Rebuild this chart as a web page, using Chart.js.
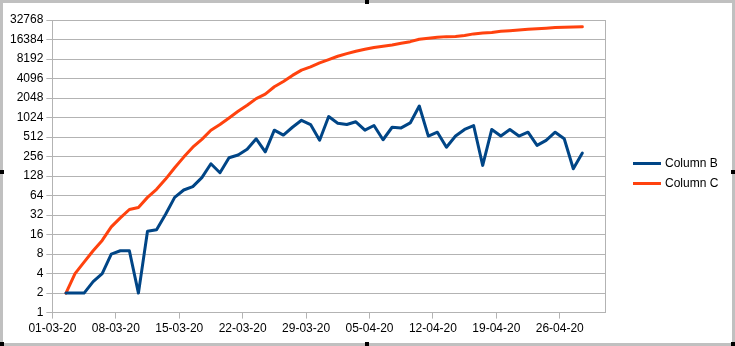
<!DOCTYPE html>
<html>
<head>
<meta charset="utf-8">
<script src="https://cdn.jsdelivr.net/npm/chart.js@4/dist/chart.umd.min.js"></script>
<style>
    html, body { margin: 0; padding: 0; background: #fff; }
    #wrap { position: relative; width: 735px; height: 346px; overflow: hidden; }
    #chart { position: absolute; left: 0; top: 0; }
    #frame {
        position: absolute; left: 0; top: 0; width: 735px; height: 346px;
        box-sizing: border-box; border: 3px solid #c0c0c0; pointer-events: none;
    }
    .handle { position: absolute; width: 4px; height: 4px; background: #000; }
    #legend {
        position: absolute; left: 633px; top: 153px;
        font: 12px "Liberation Sans", Arial, sans-serif; color: #000;
    }
    .legend-item { display: flex; align-items: center; height: 20px; }
    .legend-line { width: 28px; height: 3px; margin-right: 4px; }
</style>
</head>
<body>
<div id="wrap">
    <canvas id="chart" width="735" height="346"></canvas>
    <div id="legend"></div>
    <div id="frame"></div>
    <div class="handle" style="left:365px; top:0"></div>
    <div class="handle" style="left:0; top:170px"></div>
    <div class="handle" style="left:731px; top:170px"></div>
    <div class="handle" style="left:0; top:342px"></div>
    <div class="handle" style="left:365px; top:342px"></div>
    <div class="handle" style="left:731px; top:342px"></div>
</div>
<script>
// --- DATA ---
const days = [
    '01-03-20', '02-03-20', '03-03-20', '04-03-20', '05-03-20', '06-03-20', '07-03-20',
    '08-03-20', '09-03-20', '10-03-20', '11-03-20', '12-03-20', '13-03-20', '14-03-20',
    '15-03-20', '16-03-20', '17-03-20', '18-03-20', '19-03-20', '20-03-20', '21-03-20',
    '22-03-20', '23-03-20', '24-03-20', '25-03-20', '26-03-20', '27-03-20', '28-03-20',
    '29-03-20', '30-03-20', '31-03-20', '01-04-20', '02-04-20', '03-04-20', '04-04-20',
    '05-04-20', '06-04-20', '07-04-20', '08-04-20', '09-04-20', '10-04-20', '11-04-20',
    '12-04-20', '13-04-20', '14-04-20', '15-04-20', '16-04-20', '17-04-20', '18-04-20',
    '19-04-20', '20-04-20', '21-04-20', '22-04-20', '23-04-20', '24-04-20', '25-04-20',
    '26-04-20', '27-04-20', '28-04-20', '29-04-20', '30-04-20'
];
const firstDataDay = 1; // values start on 02-03-20

const colB = [
    2, 2, 2, 3, 4, 8, 9, 9, 2, 18,
    19, 33, 60, 78, 88, 121, 198, 144, 245, 270,
    331, 481, 303, 653, 549, 725, 929, 798, 458, 1060,
    838, 798, 880, 653, 771, 465, 725, 709, 845, 1540,
    530, 608, 357, 530, 671, 771, 187, 671, 530, 671,
    530, 608, 380, 455, 608, 481, 166, 290
];
const colC = [
    2, 4, 6, 9, 13, 21, 29, 39, 42, 60,
    80, 115, 172, 251, 357, 471, 653, 798, 1010, 1278,
    1584, 2006, 2353, 3060, 3690, 4575, 5520, 6210, 7140, 8030,
    9030, 9930, 10800, 11580, 12330, 12880, 13520, 14300, 15180, 16500,
    17100, 17700, 18150, 18300, 18950, 20000, 20700, 21100, 21900, 22400,
    22900, 23500, 24000, 24500, 25100, 25400, 25500, 25700
];
const yTicks = [1, 2, 4, 8, 16, 32, 64, 128, 256, 512, 1024, 2048, 4096, 8192, 16384, 32768];
const labelEvery = 7;

const GRID = '#b3b3b3';
const FONT = { family: '"Liberation Sans", Arial, sans-serif', size: 12 };

const toPoints = (values) => values.map((v, i) => ({ x: days[i + firstDataDay], y: v }));

// right-hand border of the plot area
const plotFrame = {
    id: 'plotFrame',
    afterDraw(chart) {
        const { ctx, chartArea: a } = chart;
        ctx.save();
        ctx.strokeStyle = GRID;
        ctx.lineWidth = 1;
        ctx.beginPath();
        ctx.moveTo(Math.round(a.right) + 0.5, a.top);
        ctx.lineTo(Math.round(a.right) + 0.5, a.bottom);
        ctx.stroke();
        ctx.restore();
    }
};

const chart = new Chart(document.getElementById('chart'), {
    type: 'line',
    data: {
        labels: days,
        datasets: [
            { label: 'Column B', data: toPoints(colB), borderColor: '#004586' },
            { label: 'Column C', data: toPoints(colC), borderColor: '#ff420e' }
        ]
    },
    options: {
        responsive: false,
        animation: false,
        events: [],
        layout: { padding: { left: 7, right: 130, top: 20, bottom: 7 } },
        elements: {
            line: { borderWidth: 3, tension: 0, borderJoinStyle: 'round', borderCapStyle: 'round' },
            point: { radius: 0 }
        },
        plugins: { legend: { display: false }, tooltip: { enabled: false } },
        scales: {
            x: {
                type: 'category',
                offset: true,
                grid: {
                    offset: true,
                    drawOnChartArea: false,
                    tickLength: 6,
                    color: (c) => (c.index % labelEvery === 0 ? GRID : 'rgba(0,0,0,0)')
                },
                border: { color: GRID },
                ticks: {
                    autoSkip: false,
                    maxRotation: 0,
                    minRotation: 0,
                    padding: 3,
                    labelOffset: -4.5,
                    color: '#000',
                    font: FONT,
                    callback: (val, idx) => (idx % labelEvery === 0 ? days[idx] : '')
                }
            },
            y: {
                type: 'logarithmic',
                min: yTicks[0],
                max: yTicks[yTicks.length - 1],
                afterBuildTicks: (scale) => { scale.ticks = yTicks.map(v => ({ value: v })); },
                grid: { color: GRID, tickLength: 6 },
                border: { color: GRID },
                ticks: {
                    padding: 3,
                    color: '#000',
                    font: FONT,
                    callback: (v) => String(v)
                }
            }
        }
    },
    plugins: [plotFrame]
});

// --- LEGEND ---
document.getElementById('legend').innerHTML = chart.data.datasets.map(ds => `
    <div class="legend-item">
        <span class="legend-line" style="background:${ds.borderColor}"></span>
        <span>${ds.label}</span>
    </div>
`).join('');
</script>
</body>
</html>
